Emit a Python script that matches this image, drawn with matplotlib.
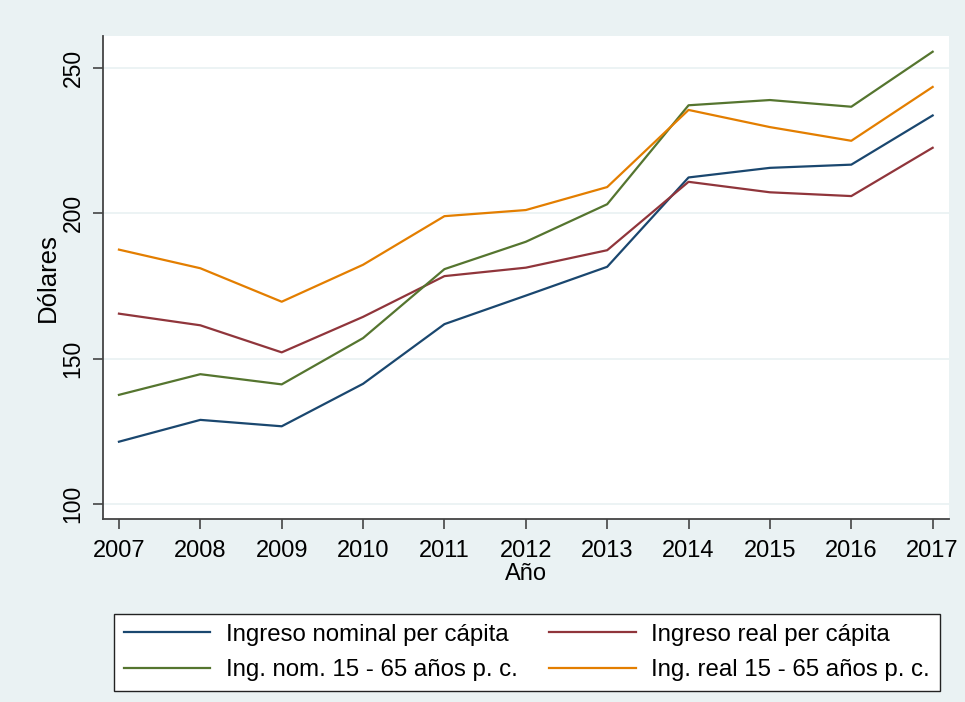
import numpy as np
import matplotlib
matplotlib.use("Agg")
import matplotlib.pyplot as plt

# values
years = [2007, 2008, 2009, 2010, 2011, 2012, 2013, 2014, 2015, 2016, 2017]
nominal_pc = [121.5, 129.0, 126.8, 141.4, 161.9, 171.7, 181.6, 212.3, 215.6, 216.7, 233.6]
real_pc = [165.5, 161.5, 152.2, 164.4, 178.4, 181.3, 187.3, 210.8, 207.2, 205.9, 222.5]
nominal_1565 = [137.6, 144.7, 141.2, 157.1, 180.8, 190.2, 203.1, 237.1, 238.9, 236.6, 255.5]
real_1565 = [187.5, 181.1, 169.6, 182.3, 199.0, 201.1, 209.0, 235.5, 229.6, 224.9, 243.4]

labels = ["Ingreso nominal per cápita", "Ing. nom. 15 - 65 años p. c.",
          "Ingreso real per cápita", "Ing. real 15 - 65 años p. c."]
yticks = [100, 150, 200, 250]

bg = "#eaf2f3"
plt.rcParams["font.family"] = ["Liberation Sans", "DejaVu Sans"]

fig = plt.figure(figsize=(9.65, 7.02), dpi=100, facecolor=bg)
ax = fig.add_axes([0.1064, 0.2603, 0.8767, 0.6884])
ax.set_facecolor("white")

l1, = ax.plot(years, nominal_pc, color="#1a476f", lw=1.6)
l2, = ax.plot(years, real_pc, color="#90353b", lw=1.6)
l3, = ax.plot(years, nominal_1565, color="#55752f", lw=1.6)
l4, = ax.plot(years, real_1565, color="#e37e00", lw=1.6)

ax.set_xlim(2006.8, 2017.197)
ax.set_ylim(94.85, 260.9)
ax.set_xticks(years)
ax.set_yticks(yticks)
ax.set_yticklabels([str(v) for v in yticks], rotation=90, va="center")
ax.grid(axis="y", color=bg, lw=1.3)
ax.set_axisbelow(True)

for s in ["top", "right"]:
    ax.spines[s].set_visible(False)
for s in ["left", "bottom"]:
    ax.spines[s].set_color("#444444")
    ax.spines[s].set_linewidth(1.3)
ax.tick_params(length=7, width=1.2, color="#444444", labelsize=16.5, pad=6)
ax.tick_params(axis="x", pad=8, labelsize=17)

ax.set_xlabel("Año", fontsize=17, labelpad=1)
ax.set_ylabel("Dólares", fontsize=18.5, labelpad=1)

leg = fig.legend([l1, l3, l2, l4], labels, ncol=2, loc="center",
                 bbox_to_anchor=(0.546, 0.0705), fontsize=17.3,
                 handlelength=3.6, handletextpad=0.65, columnspacing=1.3,
                 labelspacing=0.55, borderpad=0.42, fancybox=False,
                 framealpha=1, edgecolor="#222222", facecolor="white")
leg.get_frame().set_linewidth(1.0)

fig.savefig("out.png", dpi=100, facecolor=bg)
